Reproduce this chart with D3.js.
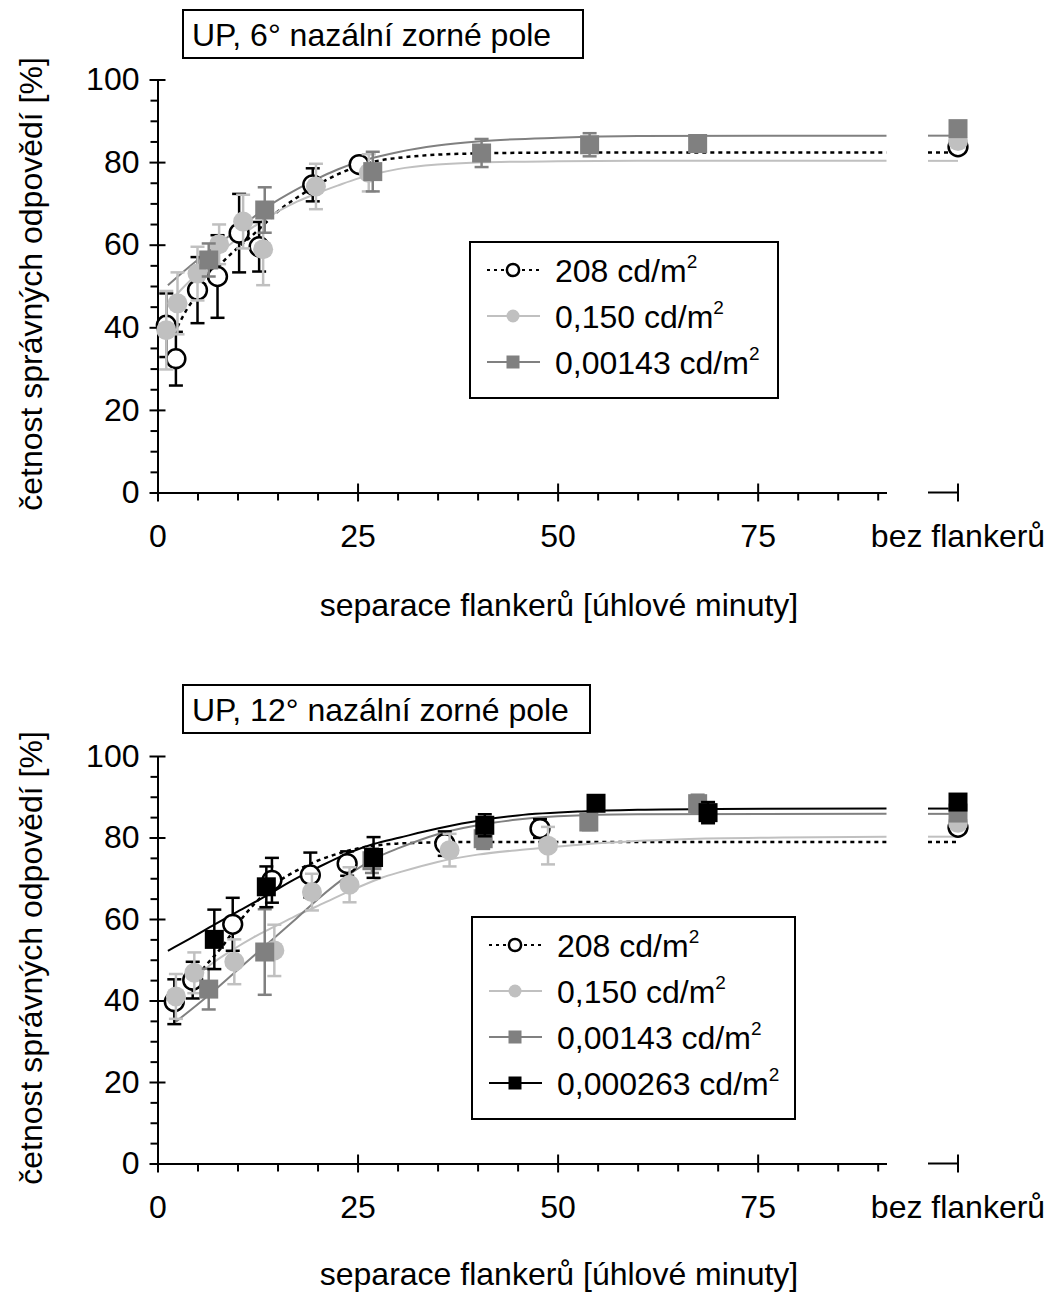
<!DOCTYPE html>
<html>
<head>
<meta charset="utf-8">
<script src="https://cdn.jsdelivr.net/npm/d3@7"></script>
<style>
  body { margin: 0; background: #fff; }
  svg text { font-family: "Liberation Sans", Arial, sans-serif; fill: #000; }
</style>
</head>
<body>
<svg id="viz" width="1059" height="1295"></svg>
<script>
"use strict";

// ---- tick labels / categories
const yMajorTicks = [0, 20, 40, 60, 80, 100];
const xMajorTicks = [0, 25, 50, 75];
const bezLabel = "bez flankerů";
const seriesKeys = ["208", "0.150", "0.00143", "0.000263"];
const legendLabels = ["208 cd/m", "0,150 cd/m", "0,00143 cd/m", "0,000263 cd/m"];

// ---- panel 1: 6° nasal field
const sepTop208 = [1.1, 2.3, 5.0, 7.5, 10.2, 12.7, 19.4, 25.2];
const valTop208 = [40.5, 32.4, 49.0, 52.3, 62.8, 59.5, 74.5, 79.4];
const errTop208 = [7.7, 6.5, 8.0, 10.0, 9.5, 6.0, 4.0, 1.5];
const sepTop150 = [1.1, 2.5, 5.0, 7.7, 10.7, 13.2, 19.8, 26.4];
const valTop150 = [39.3, 45.8, 53.0, 60.1, 65.6, 58.9, 74.1, 77.4];
const errTop150 = [9.5, 7.5, 6.5, 4.8, 6.5, 8.7, 5.5, 4.5];
const sepTop143 = [6.4, 13.4, 26.9, 40.5, 54.0, 67.5];
const valTop143 = [56.3, 68.4, 77.7, 82.2, 84.2, 84.5];
const errTop143 = [4.0, 5.5, 4.8, 3.4, 2.8, 1.5];
const bezTopVal = [83.7, 85.1, 88.1];
const bezTopErr = [1.5, 1.5, 1.2];

const fitXTop208 = [2.5, 3.75, 5, 6.5, 8, 10, 11.7, 13, 15, 17.5, 20, 22.5, 25, 27.5, 30, 35, 40, 50, 60, 91.1];
const fitYTop208 = [40.1, 44.6, 48, 52, 55.5, 59.2, 62, 64.3, 68, 71.5, 74.5, 77, 79, 80.3, 81, 81.8, 82.1, 82.3, 82.3, 82.3];
const fitXTop150 = [1.3, 3, 5, 7.5, 10, 12.5, 15, 17.5, 20, 22.5, 25, 27.5, 30, 35, 40, 50, 60, 91.1];
const fitYTop150 = [45.5, 49.2, 53, 57.5, 61.5, 65, 68, 70.5, 72.5, 74.3, 76, 77.3, 78.3, 79.4, 79.9, 80.2, 80.3, 80.3];
const fitXTop143 = [1.3, 5, 7.5, 10, 13.6, 17.5, 20, 22.5, 25, 27.5, 30, 35, 40, 50, 60, 91.1];
const fitYTop143 = [50.2, 56.3, 60, 63.6, 69, 73.5, 76, 78.2, 80, 81.3, 82.4, 84, 85, 85.9, 86.3, 86.4];

// ---- panel 2: 12° nasal field
const sepBot208 = [2.1, 4.4, 9.4, 14.3, 19.1, 23.7, 35.9, 47.8];
const valBot208 = [39.7, 45.0, 58.7, 69.5, 70.8, 73.6, 78.5, 82.2];
const errBot208 = [5.5, 4.5, 6.5, 5.5, 5.5, 3.0, 3.0, 2.3];
const sepBot150 = [2.3, 4.6, 9.6, 14.6, 19.3, 24.0, 36.5, 48.8];
const valBot150 = [41.0, 46.8, 49.5, 52.3, 66.6, 68.4, 76.9, 78.0];
const errBot150 = [5.5, 5.0, 5.5, 6.3, 4.5, 4.3, 4.0, 4.6];
const sepBot143 = [6.4, 13.4, 26.8, 40.7, 53.9, 67.5];
const valBot143 = [42.8, 51.9, 74.3, 79.7, 83.8, 88.3];
const errBot143 = [5.0, 10.5, 3.0, 2.5, 2.0, 2.2];
const sepBot263 = [7.1, 13.6, 27.0, 40.9, 54.8, 68.8];
const valBot263 = [55.0, 67.9, 75.1, 83.0, 88.4, 86.1];
const errBot263 = [7.3, 5.0, 5.0, 2.7, 1.0, 2.6];
const bezBotVal = [82.5, 83.6, 86.0, 88.7];
const bezBotErr = [1.5, 1.5, 1.2, 1.0];

const fitXBot208 = [4.4, 5.7, 8, 10.9, 13, 15, 17.5, 20, 22.5, 25, 27.5, 30, 35, 40, 91.1];
const fitYBot208 = [44.5, 47.8, 53, 61, 65.5, 69, 72, 74.3, 76, 77.3, 78.1, 78.5, 78.8, 78.9, 78.9];
const fitXBot150 = [4.6, 6.3, 9.6, 12, 14.8, 17.1, 19.8, 22.5, 25, 28.1, 30.3, 35, 40, 45, 49, 55, 65.6, 78, 91.1];
const fitYBot150 = [45.5, 48.3, 52.7, 55.5, 58.3, 60.6, 63, 65.5, 67.7, 70.2, 71.5, 74, 75.8, 76.9, 77.6, 78.6, 79.6, 80, 80.2];
const fitXBot143 = [2.3, 6.4, 10, 13.4, 17, 20, 24, 27, 30.3, 35, 40, 45, 50, 60, 91.1];
const fitYBot143 = [34.8, 41.3, 47.5, 53.3, 59.5, 64.8, 71, 74.7, 77.5, 80.8, 83, 84.4, 85.2, 85.7, 85.8];
const fitXBot263 = [1.3, 4, 7.1, 10, 13.4, 17, 20, 24, 27, 30.3, 35, 40.6, 45, 53, 60, 70, 91.1];
const fitYBot263 = [52.2, 55.1, 58.6, 61.8, 65.5, 69.6, 72.6, 76.3, 78.4, 80, 82.2, 84.3, 85.4, 86.4, 86.8, 87, 87.1];

const styles = {
  "208":      { mark: "open",   color: "#000",    dash: "4,4", lw: 2.5 },
  "0.150":    { mark: "circle", color: "#c0c0c0", dash: null,  lw: 2 },
  "0.00143":  { mark: "square", color: "#808080", dash: null,  lw: 2 },
  "0.000263": { mark: "square", color: "#000",    dash: null,  lw: 2 }
};

const svg = d3.select("#viz");
const zip = (a, b) => a.map((v, i) => [v, b[i]]);

function drawMarker(g, kind, color, cx, cy, size) {
  if (kind === "open") {
    g.append("circle").attr("cx", cx).attr("cy", cy).attr("r", size * 0.47)
      .attr("fill", "#fff").attr("stroke", "#000").attr("stroke-width", size > 12 ? 2.5 : 1.8);
  } else if (kind === "circle") {
    g.append("circle").attr("cx", cx).attr("cy", cy).attr("r", size / 2).attr("fill", color);
  } else {
    g.append("rect").attr("x", cx - size / 2).attr("y", cy - size / 2)
      .attr("width", size).attr("height", size).attr("fill", color);
  }
}

function drawPanel(p) {
  const g = svg.append("g");
  const x = d3.scaleLinear().domain([0, 91.1]).range([157.5, 886.5]);
  const y = d3.scaleLinear().domain([0, 100]).range([p.y0, p.y100]);
  const bezX = 958, breakX = 928;

  // y axis
  const ya = g.append("g").attr("transform", `translate(${x(0)},0)`)
    .call(d3.axisLeft(y).tickValues(yMajorTicks).tickSize(8).tickPadding(10).tickSizeOuter(0));
  ya.attr("font-size", null).attr("font-family", null);
  ya.selectAll(".tick line").attr("x1", 8).attr("stroke-width", 2);
  ya.select(".domain").attr("stroke-width", 2);
  ya.selectAll("text").style("font-size", "32px");
  const yMinor = d3.range(5, 100, 5).filter(v => v % 20 !== 0);
  g.append("g").attr("transform", `translate(${x(0)},0)`)
    .call(d3.axisLeft(y).tickValues(yMinor).tickSize(7).tickFormat("").tickSizeOuter(0))
    .call(a => a.select(".domain").remove())
    .selectAll(".tick line").attr("stroke-width", 2);

  // x axis
  const xa = g.append("g").attr("transform", `translate(0,${y(0)})`)
    .call(d3.axisBottom(x).tickValues(xMajorTicks).tickSize(9).tickPadding(23).tickSizeOuter(0));
  xa.attr("font-size", null).attr("font-family", null);
  xa.selectAll(".tick line").attr("y1", -9).attr("stroke-width", 2);
  xa.select(".domain").attr("stroke-width", 2);
  xa.selectAll("text").style("font-size", "32px");
  const xMinor = d3.range(5, 91, 5).filter(v => v % 25 !== 0);
  g.append("g").attr("transform", `translate(0,${y(0)})`)
    .call(d3.axisBottom(x).tickValues(xMinor).tickSize(8).tickFormat("").tickSizeOuter(0))
    .call(a => a.select(".domain").remove())
    .selectAll(".tick line").attr("stroke-width", 2);

  // broken axis part for "bez flankerů"
  g.append("line").attr("x1", breakX).attr("x2", bezX).attr("y1", y(0)).attr("y2", y(0))
    .attr("stroke", "#000").attr("stroke-width", 2);
  g.append("line").attr("x1", bezX).attr("x2", bezX).attr("y1", y(0) - 9).attr("y2", y(0) + 9)
    .attr("stroke", "#000").attr("stroke-width", 2);
  g.append("text").attr("x", bezX).attr("y", y(0) + 32).attr("dy", "0.71em")
    .attr("text-anchor", "middle").style("font-size", "32px").text(bezLabel);

  // axis titles
  g.append("text").attr("transform", `translate(42,${p.yLabelC}) rotate(-90)`)
    .attr("text-anchor", "middle").style("font-size", "32px").text("četnost správných odpovědí [%]");
  g.append("text").attr("x", 559).attr("y", p.xLabelY)
    .attr("text-anchor", "middle").style("font-size", "32px").text("separace flankerů [úhlové minuty]");

  // fit curves
  const line = d3.line().x(d => x(d[0])).y(d => y(d[1])).curve(d3.curveMonotoneX);
  p.series.forEach(s => {
    const st = styles[s.key];
    g.append("path").datum(zip(s.fitX, s.fitY)).attr("d", line)
      .attr("fill", "none").attr("stroke", st.color).attr("stroke-width", st.lw)
      .attr("stroke-dasharray", st.dash);
    const last = s.fitY[s.fitY.length - 1];
    g.append("line").attr("x1", breakX).attr("x2", bezX).attr("y1", y(last)).attr("y2", y(last))
      .attr("stroke", st.color).attr("stroke-width", st.lw).attr("stroke-dasharray", st.dash);
  });

  // error bars and markers
  p.series.forEach(s => {
    const st = styles[s.key];
    const barColor = st.mark === "open" ? "#000" : st.color;
    const pts = s.sep.map((v, i) => ({ px: x(v), v: s.val[i], e: s.err[i] }));
    pts.push({ px: bezX, v: s.bezVal, e: s.bezErr });
    const eb = g.append("g").attr("stroke", barColor).attr("stroke-width", 2.5);
    pts.forEach(d => {
      eb.append("line").attr("x1", d.px).attr("x2", d.px).attr("y1", y(d.v - d.e)).attr("y2", y(d.v + d.e));
      [d.v - d.e, d.v + d.e].forEach(t => {
        eb.append("line").attr("x1", d.px - 7).attr("x2", d.px + 7).attr("y1", y(t)).attr("y2", y(t));
      });
    });
    const mk = g.append("g");
    pts.forEach(d => drawMarker(mk, st.mark, st.color, d.px, y(d.v), st.mark === "square" ? 19 : 20));
  });

  // title box
  g.append("rect").attr("x", 183).attr("y", p.titleY).attr("width", p.titleW).attr("height", 48)
    .attr("fill", "#fff").attr("stroke", "#000").attr("stroke-width", 2);
  g.append("text").attr("x", 192).attr("y", p.titleY + 36).style("font-size", "32px").text(p.title);

  // legend
  const lg = g.append("g");
  lg.append("rect").attr("x", p.legX).attr("y", p.legY).attr("width", p.legW)
    .attr("height", 28 + p.series.length * 46 - 10)
    .attr("fill", "#fff").attr("stroke", "#000").attr("stroke-width", 2);
  p.series.forEach((s, i) => {
    const st = styles[s.key];
    const cy = p.legY + 28 + i * 46;
    const lx = p.legX + 17;
    lg.append("line").attr("x1", lx).attr("x2", lx + 53).attr("y1", cy).attr("y2", cy)
      .attr("stroke", st.color).attr("stroke-width", 2)
      .attr("stroke-dasharray", st.mark === "open" ? "3,4" : null);
    drawMarker(lg, st.mark, st.color, lx + 26, cy, 13);
    const t = lg.append("text").attr("x", p.legX + 85).attr("y", cy + 12).style("font-size", "32px");
    t.append("tspan").text(legendLabels[seriesKeys.indexOf(s.key)]);
    t.append("tspan").attr("dy", -14).style("font-size", "19px").text("2");
  });
}

drawPanel({
  y0: 492.5, y100: 79.5, yLabelC: 284, xLabelY: 616,
  title: "UP, 6° nazální zorné pole", titleY: 10, titleW: 400,
  legX: 470, legY: 242, legW: 308,
  series: [
    { key: "208", sep: sepTop208, val: valTop208, err: errTop208, bezVal: bezTopVal[0], bezErr: bezTopErr[0], fitX: fitXTop208, fitY: fitYTop208 },
    { key: "0.150", sep: sepTop150, val: valTop150, err: errTop150, bezVal: bezTopVal[1], bezErr: bezTopErr[1], fitX: fitXTop150, fitY: fitYTop150 },
    { key: "0.00143", sep: sepTop143, val: valTop143, err: errTop143, bezVal: bezTopVal[2], bezErr: bezTopErr[2], fitX: fitXTop143, fitY: fitYTop143 }
  ]
});

drawPanel({
  y0: 1163.5, y100: 756, yLabelC: 958, xLabelY: 1285,
  title: "UP, 12° nazální zorné pole", titleY: 685, titleW: 407,
  legX: 472, legY: 917, legW: 323,
  series: [
    { key: "208", sep: sepBot208, val: valBot208, err: errBot208, bezVal: bezBotVal[0], bezErr: bezBotErr[0], fitX: fitXBot208, fitY: fitYBot208 },
    { key: "0.150", sep: sepBot150, val: valBot150, err: errBot150, bezVal: bezBotVal[1], bezErr: bezBotErr[1], fitX: fitXBot150, fitY: fitYBot150 },
    { key: "0.00143", sep: sepBot143, val: valBot143, err: errBot143, bezVal: bezBotVal[2], bezErr: bezBotErr[2], fitX: fitXBot143, fitY: fitYBot143 },
    { key: "0.000263", sep: sepBot263, val: valBot263, err: errBot263, bezVal: bezBotVal[3], bezErr: bezBotErr[3], fitX: fitXBot263, fitY: fitYBot263 }
  ]
});
</script>
</body>
</html>
